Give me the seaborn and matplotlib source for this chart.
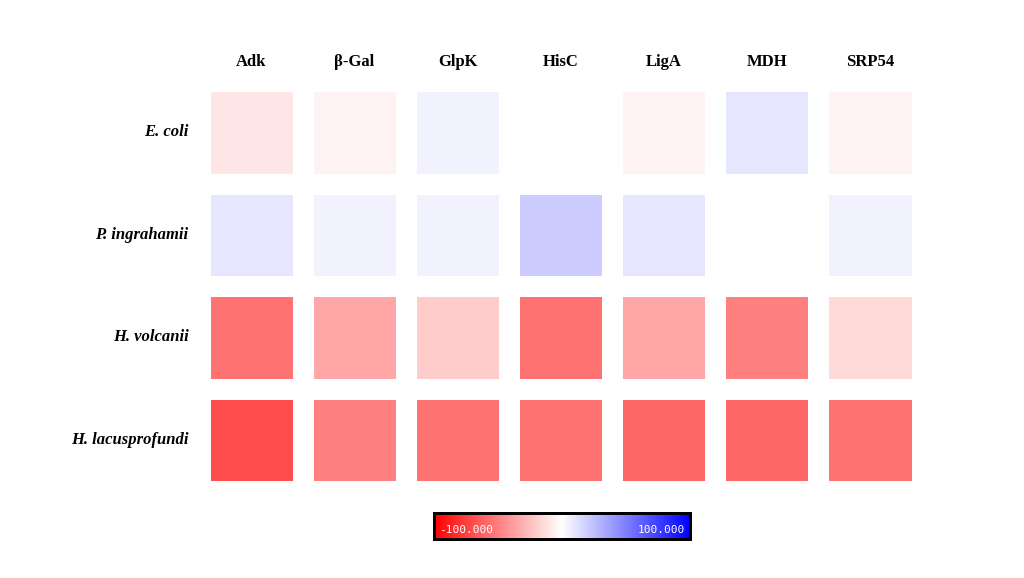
import numpy as np
import pandas as pd
import seaborn as sns
from matplotlib import pyplot as plt

proteins = ["Adk", "β-Gal", "GlpK", "HisC", "LigA", "MDH", "SRP54"]
organisms = ["E. coli", "P. ingrahamii", "H. volcanii", "H. lacusprofundi"]
# rough mean surface potential per structure, read from surface colouring
ecoli = [-10, -5, 5, 0, -5, 10, -5]
pingrahamii = [10, 5, 5, 20, 10, 0, 5]
hvolcanii = [-55, -35, -20, -55, -35, -50, -15]
hlacus = [-70, -50, -55, -55, -60, -60, -55]

df = pd.DataFrame([ecoli, pingrahamii, hvolcanii, hlacus], index=organisms, columns=proteins)

plt.rcParams['font.family'] = ['Liberation Serif', 'DejaVu Serif']
fig = plt.figure(figsize=(10.24, 5.78), dpi=100)
ax = fig.add_axes([0.195, 0.15, 0.705, 0.71])
cax = fig.add_axes([0.424, 0.068, 0.25, 0.044])

sns.heatmap(df, ax=ax, cmap="bwr_r", vmin=-100, vmax=100, linewidths=14, linecolor="white",
            cbar_ax=cax, cbar_kws={"orientation": "horizontal"})
ax.xaxis.tick_top()
ax.set_xticklabels(proteins, fontweight="bold", fontsize=12, rotation=0)
ax.set_yticklabels(organisms, fontweight="bold", fontstyle="italic", fontsize=12, rotation=0)
ax.tick_params(length=0, pad=8)

cax.set_xticks([])
for s in cax.spines.values():
    s.set_visible(True)
    s.set_linewidth(2)
    s.set_edgecolor("black")
cax.text(0.02, 0.15, "-100.000", transform=cax.transAxes, family="DejaVu Sans Mono",
         fontsize=8, color="white", va="bottom")
cax.text(0.98, 0.15, "100.000", transform=cax.transAxes, family="DejaVu Sans Mono",
         fontsize=8, color="white", ha="right", va="bottom")

fig.savefig("out.png", dpi=100)
